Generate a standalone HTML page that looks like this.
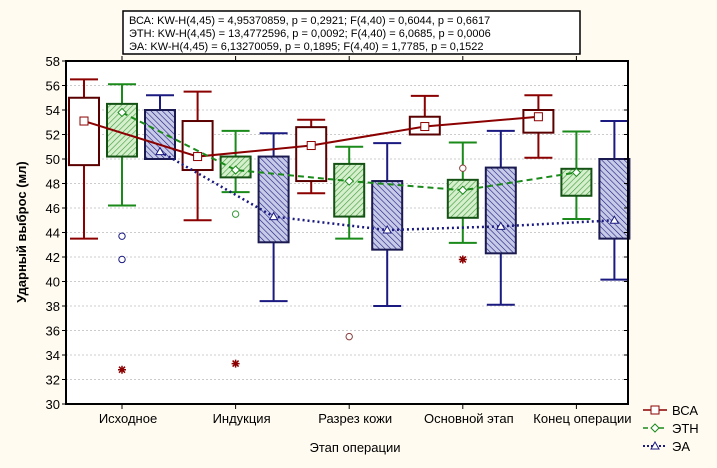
<!DOCTYPE html>
<html><head><meta charset="utf-8"><style>
body{margin:0;background:#fffbf0;font-family:"Liberation Sans",sans-serif}
</style></head><body>
<svg id="c" width="717" height="463" xmlns="http://www.w3.org/2000/svg">
<defs>
<pattern id="hg" width="4" height="4" patternUnits="userSpaceOnUse" patternTransform="rotate(45)"><rect width="4" height="4" fill="#d6efcc"/><line x1="0" y1="0" x2="0" y2="4" stroke="#3a9a3a" stroke-width="1.2"/></pattern>
<pattern id="hb" width="4" height="4" patternUnits="userSpaceOnUse" patternTransform="rotate(-45)"><rect width="4" height="4" fill="#c8cbe8"/><line x1="0" y1="0" x2="0" y2="4" stroke="#1a1a80" stroke-width="1.2"/></pattern>
</defs>
<rect x="66" y="61" width="562" height="343" fill="#fff"/>
<g id="grid"></g>
<g id="marks"></g>
<rect x="66" y="61" width="562" height="343" fill="none" stroke="#000" stroke-width="2"/>
<g id="axes" font-size="13"></g>
<g>
<rect x="123" y="11" width="457" height="43" fill="#fff" stroke="#000" stroke-width="1.5"/>
<text x="129" y="24" font-size="11">ВСА:  KW-H(4,45) = 4,95370859, p = 0,2921;  F(4,40) = 0,6044, p = 0,6617</text>
<text x="129" y="37" font-size="11">ЭТН:  KW-H(4,45) = 13,4772596, p = 0,0092;  F(4,40) = 6,0685, p = 0,0006</text>
<text x="129" y="50" font-size="11">ЭА:  KW-H(4,45) = 6,13270059, p = 0,1895;  F(4,40) = 1,7785, p = 0,1522</text>
</g>
<text x="355" y="452" font-size="13" text-anchor="middle">Этап операции</text>
<text transform="translate(26,232) rotate(-90)" font-size="13" font-weight="bold" text-anchor="middle">Ударный выброс (мл)</text>
<g font-size="13">
<g><line x1="643" y1="410" x2="667" y2="410" stroke="#8b0000" stroke-width="1.5"/><rect x="651" y="406" width="8" height="8" fill="#fff" stroke="#8b0000"/><text x="672" y="415">ВСА</text></g>
<g><line x1="643" y1="428" x2="667" y2="428" stroke="#1a8a1a" stroke-width="1.5" stroke-dasharray="5,3"/><path d="M655 424 L659 428 L655 432 L651 428Z" fill="#fff" stroke="#1a8a1a"/><text x="672" y="433">ЭТН</text></g>
<g><line x1="643" y1="446" x2="667" y2="446" stroke="#1a1a80" stroke-width="2" stroke-dasharray="2,2"/><path d="M655 442 L659 449 L651 449Z" fill="#fff" stroke="#1a1a80"/><text x="672" y="451">ЭА</text></g>
</g>
</svg>
<script>
const categories=["Исходное","Индукция","Разрез кожи","Основной этап","Конец операции"];
const yTicks=[30,32,34,36,38,40,42,44,46,48,50,52,54,56,58];
const vsaMin=[43.5,45,47.2,52,50.1];
const vsaQ1=[49.5,49.1,48.2,52,52.15];
const vsaQ3=[55,53.1,52.6,53.45,54];
const vsaMax=[56.5,55.5,53.2,55.15,55.2];
const vsaMean=[53.1,50.2,51.1,52.65,53.45];
const etnMin=[46.2,47.3,43.5,43.15,45.1];
const etnQ1=[50.2,48.5,45.3,45.2,47];
const etnQ3=[54.5,50.2,49.6,48.3,49.2];
const etnMax=[56.1,52.3,51,51.35,52.25];
const etnMean=[53.8,49.1,48.2,47.45,48.9];
const eaMin=[50,38.4,38,38.1,40.15];
const eaQ1=[50,43.2,42.6,42.3,43.5];
const eaQ3=[54,50.2,48.2,49.3,50];
const eaMax=[55.2,52.1,51.3,52.3,53.1];
const eaMean=[50.6,45.3,44.2,44.5,45];
const outCat=[0,0,0,1,1,2,3,3];
const outVal=[43.7,41.8,32.8,33.3,45.5,35.5,41.8,49.25];
const outType=["o","o","*","*","o","o","*","o"];
const outColor=["#1a1a80","#1a1a80","#8b0000","#8b0000","#3a9a3a","#8b4040","#8b0000","#8b4040"];
const NS="http://www.w3.org/2000/svg";
function yS(v){return 404-(Number(v)-30)*(343/28);}
function xS(i){return 122+i*113.6;}
function mk(p,t,a){const e=document.createElementNS(NS,t);for(const k in a)e.setAttribute(k,a[k]);p.appendChild(e);return e;}
const grid=document.getElementById('grid'),marks=document.getElementById('marks'),axes=document.getElementById('axes');
yTicks.forEach(function(v){
 const gl=mk(grid,'line',{x1:66,x2:628,y1:yS(v),y2:yS(v),stroke:'#ccc','stroke-dasharray':'2,2'});
 
 
 const t=mk(axes,'text',{x:60,y:yS(v)+5,'text-anchor':'end'});t.textContent=v;
 
 
 mk(axes,'line',{x1:62,x2:66,y1:yS(v),y2:yS(v),stroke:'#000'});
 mk(axes,'line',{x1:624,x2:628,y1:yS(v),y2:yS(v),stroke:'#000'});
});
categories.forEach(function(c,i){
 const t=mk(axes,'text',{x:xS(i)+6,y:423,'text-anchor':'middle'});t.textContent=c;
 
 
 mk(axes,'line',{x1:xS(i),x2:xS(i),y1:404,y2:409,stroke:'#000'});
 mk(axes,'line',{x1:xS(i),x2:xS(i),y1:56,y2:61,stroke:'#000'});
});
const series=[
 {key:'vsa',off:-38,lo:vsaMin,q1:vsaQ1,q3:vsaQ3,hi:vsaMax,me:vsaMean,col:'#8b0000',edge:'#5a0000',fill:'#fff',dash:'',lw:2},
 {key:'etn',off:0,lo:etnMin,q1:etnQ1,q3:etnQ3,hi:etnMax,me:etnMean,col:'#1a8a1a',edge:'#145214',fill:'url(#hg)',dash:'6,4',lw:2},
 {key:'ea',off:38,lo:eaMin,q1:eaQ1,q3:eaQ3,hi:eaMax,me:eaMean,col:'#1a1a80',edge:'#1a1a50',fill:'url(#hb)',dash:'2,3',lw:2.5}];
for(const s of series){
 for(let i=0;i<categories.length;i++){
  const x=xS(i)+s.off;
  const yHi=yS(s.hi[i]),yLo=yS(s.lo[i]),yQ3=yS(s.q3[i]),yQ1=yS(s.q1[i]);
  const bg=mk(marks,'g',{});
  
  
  mk(bg,'line',{x1:x,x2:x,y1:yHi,y2:yLo,stroke:s.col,'stroke-width':2});
  mk(bg,'line',{x1:x-14,x2:x+14,y1:yHi,y2:yHi,stroke:s.col,'stroke-width':2});
  mk(bg,'line',{x1:x-14,x2:x+14,y1:yLo,y2:yLo,stroke:s.col,'stroke-width':2});
  mk(bg,'rect',{x:x-15,y:yQ3,width:30,height:Math.max(1,yQ1-yQ3),fill:s.fill,stroke:s.edge,'stroke-width':2});
 }
}
for(const s of series){
 const pts=categories.map(function(c,i){return (xS(i)+s.off)+','+yS(s.me[i]);}).join(' ');
 const l=mk(marks,'polyline',{points:pts,fill:'none',stroke:s.col,'stroke-width':s.lw,'stroke-dasharray':s.dash});
 
 
 for(let i=0;i<categories.length;i++){
  const x=xS(i)+s.off,y=yS(s.me[i]);
  let m;
  if(s.key==='vsa')m=mk(marks,'rect',{x:x-4,y:y-4,width:8,height:8,fill:'#fff',stroke:s.col});
  else if(s.key==='etn')m=mk(marks,'path',{d:'M'+x+' '+(y-4)+'L'+(x+4)+' '+y+'L'+x+' '+(y+4)+'L'+(x-4)+' '+y+'Z',fill:'#fff',stroke:s.col});
  else m=mk(marks,'path',{d:'M'+x+' '+(y-4)+'L'+(x+4)+' '+(y+3)+'L'+(x-4)+' '+(y+3)+'Z',fill:'#fff',stroke:s.col});
  
  
 }
}
outVal.forEach(function(v,k){
 const x=xS(outCat[k]),y=yS(v);
 let m;
 if(outType[k]==='o')m=mk(marks,'circle',{cx:x,cy:y,r:3.2,fill:'#fff',stroke:outColor[k]});
 else m=mk(marks,'path',{d:'M'+(x-4)+' '+y+'H'+(x+4)+'M'+x+' '+(y-4)+'V'+(y+4)+'M'+(x-3)+' '+(y-3)+'L'+(x+3)+' '+(y+3)+'M'+(x+3)+' '+(y-3)+'L'+(x-3)+' '+(y+3),stroke:outColor[k],'stroke-width':1.5});
 
 
});
</script>
</body></html>
